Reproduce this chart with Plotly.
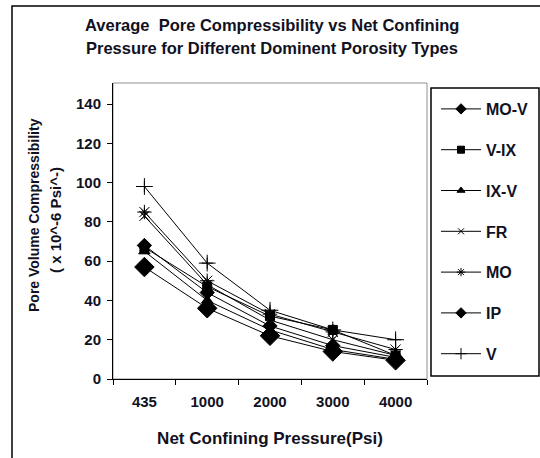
import plotly.graph_objects as go

categories = ["435", "1000", "2000", "3000", "4000"]
series_names = ["MO-V", "V-IX", "IX-V", "FR", "MO", "IP", "V"]
mo_v = [68, 44, 27, 17, 11]
v_ix = [67, 47, 32, 25, 12]
ix_v = [65, 40, 25, 15, 10]
fr = [83, 48, 30, 20, 12]
mo = [85, 50, 33, 24, 15]
ip = [57, 36, 22, 14, 9.5]
v = [98, 59, 35, 25, 20]
yticks = [0, 20, 40, 60, 80, 100, 120, 140]

series_values = [mo_v, v_ix, ix_v, fr, mo, ip, v]
symbols = ["diamond", "square", "triangle-up", "x-thin-open", "asterisk-open", "diamond", "cross-thin-open"]
plot_sizes = [11, 9, 10, 10, 12, 15, 12]
legend_sizes = [8, 7, 7, 6, 7, 8, 8]

W, H = 540, 458
L, R, T, B = 113, 427, 83, 379  # plot area in px

def px(x):
    return (x - L) / (R - L)

def py(y):
    return (B - y) / (B - T)

FONT = "Liberation Sans, Arial, sans-serif"
TXT = "#111122"

def f(size):
    return dict(family=FONT, size=size, color=TXT, weight="bold")

fig = go.Figure()
# lines (with small markers that also serve as the legend symbols)
for name, vals, sym, sz in zip(series_names, series_values, symbols, legend_sizes):
    fig.add_trace(go.Scatter(
        x=categories, y=vals, name=name, mode="lines+markers",
        legendgroup=name,
        line=dict(color="black", width=1),
        marker=dict(symbol=sym, size=sz, color="black",
                    line=dict(color="black", width=1)),
    ))
# full-size plot markers
for name, vals, sym, sz in zip(series_names, series_values, symbols, plot_sizes):
    fig.add_trace(go.Scatter(
        x=categories, y=vals, name=name, mode="markers",
        legendgroup=name, showlegend=False,
        marker=dict(symbol=sym, size=sz, color="black",
                    line=dict(color="black", width=1)),
    ))

fig.update_layout(
    width=W, height=H,
    margin=dict(l=L, r=W - R, t=T, b=H - B, pad=0, autoexpand=False),
    paper_bgcolor="white", plot_bgcolor="white",
    font=f(14),
    showlegend=True,
    legend=dict(
        x=px(436), y=py(92), xanchor="left", yanchor="top",
        bgcolor="rgba(0,0,0,0)", borderwidth=0,
        font=f(16),
        itemwidth=40, tracegroupgap=17,
    ),
    xaxis=dict(
        type="category", range=[-0.5, 4.5],
        showline=True, linecolor="black", linewidth=1,
        ticks="outside", ticklen=5, tickcolor="black", tickson="boundaries",
        ticklabelstandoff=9,
        showgrid=False, zeroline=False,
        tickfont=f(15),
        title=dict(text="Net Confining Pressure(Psi)", standoff=23, font=f(17)),
    ),
    yaxis=dict(
        range=[0, 150.7], tickvals=yticks,
        showline=True, linecolor="black", linewidth=1,
        ticks="outside", ticklen=5, tickcolor="black",
        ticklabelstandoff=3,
        showgrid=False, zeroline=False,
        tickfont=f(15),
    ),
    shapes=[
        # outer chart border
        dict(type="rect", xref="paper", yref="paper",
             x0=px(12), x1=px(560), y0=py(480), y1=py(6),
             line=dict(color="black", width=1.5), layer="below"),
        # plot area border (grey)
        dict(type="rect", xref="paper", yref="paper",
             x0=0, x1=1, y0=0, y1=1,
             line=dict(color="#909090", width=1), layer="below"),
        # legend box
        dict(type="rect", xref="paper", yref="paper",
             x0=px(431), x1=px(539), y0=py(376), y1=py(88),
             line=dict(color="black", width=1.5), layer="below"),
    ],
    annotations=[
        dict(text="Average  Pore Compressibility vs Net Confining",
             xref="paper", yref="paper", x=px(272), y=py(25),
             xanchor="center", yanchor="middle", showarrow=False, font=f(16.5)),
        dict(text="Pressure for Different Dominent Porosity Types",
             xref="paper", yref="paper", x=px(272), y=py(48),
             xanchor="center", yanchor="middle", showarrow=False, font=f(16.5)),
        dict(text="Pore Volume Compressibility",
             xref="paper", yref="paper", x=px(34), y=py(215),
             xanchor="center", yanchor="middle", showarrow=False, textangle=-90,
             font=f(14)),
        dict(text="( x 10^-6 Psi^-)",
             xref="paper", yref="paper", x=px(55), y=py(220),
             xanchor="center", yanchor="middle", showarrow=False, textangle=-90,
             font=f(15)),
    ],
)

fig.write_html("out.html")
